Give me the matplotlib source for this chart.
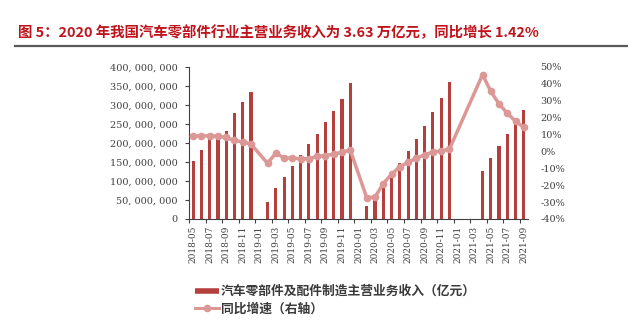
import numpy as np
import matplotlib
matplotlib.use("Agg")
import matplotlib.pyplot as plt
from matplotlib.lines import Line2D
from matplotlib.ticker import FixedLocator, NullFormatter, FixedFormatter

plt.rcParams['font.family'] = ['Noto Sans CJK SC', 'DejaVu Sans']

# ---------------- data ----------------
months = []
for y in (2018, 2019, 2020, 2021):
    for m in range(1, 13):
        if (y == 2018 and m < 5) or (y == 2021 and m > 9):
            continue
        months.append(f"{y}-{m:02d}")

nan = np.nan
revenue_m = [152, 182, 216, 213, 232, 280, 307, 333,          # 2018-05..12
             nan, 46, 82.5, 110, 139.5, 168, 196.5, 224, 254, 284, 317, 357,  # 2019
             nan, 34, 60, 87, 116, 148, 180, 210, 246, 282, 319, 361,          # 2020
             nan, nan, nan, 127, 160, 191, 224, 254, 287]                    # 2021-01..09
growth = [9.2, 9.2, 9.3, 9.0, 8.3, 6.5, 5.7, 4.3,
          nan, -7.0, -1.0, -3.9, -3.9, -4.3, -4.3, -2.9, -2.5, -1.5, -0.5, 0.9,
          nan, -27.5, -27.0, -19.0, -13.5, -9.0, -6.4, -4.0, -2.0, -0.3, 0.3, 1.4,
          nan, nan, nan, 45.5, 35.6, 28.1, 22.6, 17.8, 14.3]

revenue = np.array(revenue_m) * 1e6
growth = np.array(growth)

left_ticks = [0, 50e6, 100e6, 150e6, 200e6, 250e6, 300e6, 350e6, 400e6]
right_ticks = [-40, -30, -20, -10, 0, 10, 20, 30, 40, 50]

title = "图 5：2020 年我国汽车零部件行业主营业务收入为 3.63 万亿元，同比增长 1.42%"
bar_label = "汽车零部件及配件制造主营业务收入（亿元）"
line_label = "同比增速（右轴）"

# ---------------- style ----------------
bar_color = '#B3403D'
line_color = '#DC9896'
tick_color = '#404040'

W, H = 628, 322
fig = plt.figure(figsize=(W / 100, H / 100), dpi=100)
ax = fig.add_axes([189 / W, 1 - 219 / H, (528 - 189) / W, (219 - 67) / H])

x = np.arange(len(months))
ax.bar(x, revenue, width=0.38, color=bar_color, zorder=2)
ax.set_xlim(-0.5, len(months) - 0.5)
ax.set_ylim(0, 400e6)

ax.yaxis.set_major_locator(FixedLocator(left_ticks))
ax.set_yticklabels([f"{v:,.0f}".replace(",", ", ") for v in left_ticks],
                   family='DejaVu Serif', fontsize=7, color=tick_color)
ax.tick_params(axis='y', direction='out', length=3, width=0.8, pad=5, colors=tick_color)

# x: ticks between category pairs, labels every other month
ax.xaxis.set_major_locator(FixedLocator(np.arange(-0.5, len(months), 2)))
ax.xaxis.set_major_formatter(NullFormatter())
ax.xaxis.set_minor_locator(FixedLocator(x[::2]))
ax.xaxis.set_minor_formatter(FixedFormatter(months[::2]))
ax.tick_params(axis='x', which='major', direction='out', length=3, width=0.8, color=tick_color)
ax.tick_params(axis='x', which='minor', length=0, pad=5)
for lbl in ax.xaxis.get_minorticklabels():
    lbl.set_rotation(90)
    lbl.set_family('DejaVu Serif')
    lbl.set_fontsize(6.5)
    lbl.set_color(tick_color)

for s in ('top', 'right'):
    ax.spines[s].set_visible(False)
for s in ('left', 'bottom'):
    ax.spines[s].set_color(tick_color)
    ax.spines[s].set_linewidth(0.8)

ax2 = ax.twinx()
mask = ~np.isnan(growth)
ax2.plot(x[mask], growth[mask], color=line_color, lw=2.5, marker='o', ms=4.5,
         markerfacecolor=line_color, markeredgecolor=line_color, zorder=3)
ax2.set_ylim(-40, 50)
ax2.yaxis.set_major_locator(FixedLocator(right_ticks))
ax2.set_yticklabels([f"{v}%" for v in right_ticks], family='DejaVu Serif',
                    fontsize=7, color=tick_color)
ax2.tick_params(axis='y', length=0, pad=9)
for s in ax2.spines.values():
    s.set_visible(False)

# title and rule
fig.text(18 / W, 1 - 33 / H, title, color='#C0141C', fontsize=10.4, fontweight='bold',
         va='center', ha='left')
fig.add_artist(Line2D([15 / W, 1.0], [1 - 46 / H, 1 - 46 / H], color='#5A5A5A', lw=1.6))

# legend
handles = [Line2D([0], [0], color=bar_color, lw=4, solid_capstyle='butt'),
           Line2D([0], [0], color=line_color, lw=2.2, marker='o', ms=4.5)]
fig.legend(handles, [bar_label, line_label], loc='upper left',
           bbox_to_anchor=(195 / W, 1 - 285 / H), frameon=False,
           prop={'size': 9.2, 'weight': 'bold'}, labelcolor='#3A3A3A',
           handlelength=1.85, handletextpad=0.15, labelspacing=0.38, borderpad=0,
           borderaxespad=0)

fig.savefig("out.png", dpi=100)
